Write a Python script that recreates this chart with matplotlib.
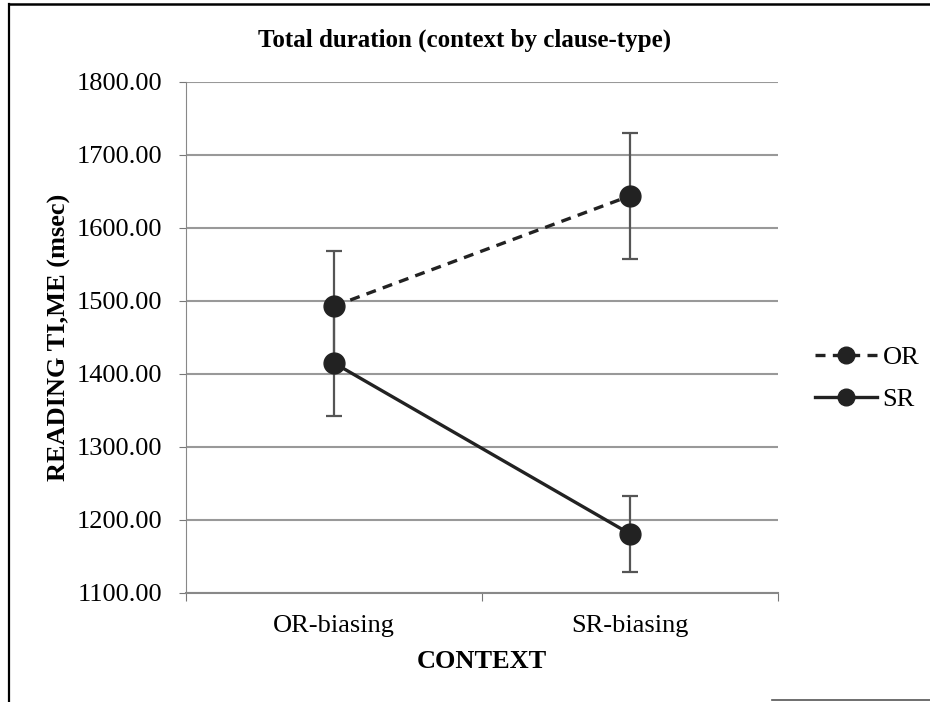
import matplotlib.pyplot as plt
from matplotlib.lines import Line2D
import numpy as np

plt.rcParams['font.family'] = ['Liberation Serif', 'DejaVu Serif']

contexts = ['OR-biasing', 'SR-biasing']
or_means = [1493, 1644]
or_err = [76, 86]
sr_means = [1415, 1181]
sr_err = [73, 52]
yticks = [1100, 1200, 1300, 1400, 1500, 1600, 1700, 1800]

fig = plt.figure(figsize=(9.3, 7.02), dpi=100)
ax = fig.add_axes([0.2, 0.1553, 0.6366, 0.7279])

x = np.arange(len(contexts)) + 0.5
dash = (0, (3, 2.2))

ax.errorbar(x, or_means, yerr=or_err, color='#222222', linestyle=dash,
            linewidth=2.4, marker='o', markersize=15, ecolor='#555555',
            elinewidth=1.6, capsize=6, capthick=1.6, zorder=3)
ax.errorbar(x, sr_means, yerr=sr_err, color='#222222', linestyle='-',
            linewidth=2.4, marker='o', markersize=15, ecolor='#555555',
            elinewidth=1.6, capsize=6, capthick=1.6, zorder=3)

ax.set_xlim(0, 2)
ax.set_ylim(1100, 1800)
ax.set_yticks(yticks)
ax.set_yticklabels(['%.2f' % v for v in yticks], fontsize=19)
ax.set_xticks([0, 1, 2])
ax.set_xticklabels([])
ax.set_xticks(x, minor=True)
ax.set_xticklabels(contexts, minor=True, fontsize=19)
ax.tick_params(axis='x', which='minor', length=0, pad=16)
ax.tick_params(axis='x', which='major', length=6, color='#777777', direction='out')
ax.tick_params(axis='y', length=5, color='#777777', pad=12)

ax.grid(axis='y', color='#999999', linewidth=1.5)
ax.set_axisbelow(True)
for s in ['top', 'right']:
    ax.spines[s].set_visible(False)
ax.spines['left'].set_color('#888888')
ax.spines['bottom'].set_color('#888888')
ax.spines['bottom'].set_linewidth(1.5)

fig.text(0.5, 0.942, 'Total duration (context by clause-type)', fontsize=18,
         fontweight='bold', ha='center', va='center')
ax.set_xlabel('CONTEXT', fontsize=19, fontweight='bold', labelpad=9)
ax.set_ylabel('READING TI,ME (msec)', fontsize=19, fontweight='bold', labelpad=4)

handles = [Line2D([], [], color='#222222', linestyle=dash, linewidth=2.4,
                  marker='o', markersize=12),
           Line2D([], [], color='#222222', linestyle='-', linewidth=2.4,
                  marker='o', markersize=12)]
ax.legend(handles, ['OR', 'SR'], loc='center left', bbox_to_anchor=(1.063, 0.42),
          frameon=False, fontsize=19, handlelength=2.35, handletextpad=0.2,
          labelspacing=0.7, borderaxespad=0, borderpad=0)

# outer frame lines
fig.add_artist(Line2D([0.01, 0.01], [0.0, 0.994], color='black', linewidth=1.6))
fig.add_artist(Line2D([0.01, 1.0], [0.994, 0.994], color='black', linewidth=1.8))
fig.add_artist(Line2D([0.83, 1.0], [0.003, 0.003], color='#555555', linewidth=1.2))

fig.savefig('out.png', dpi=100)
